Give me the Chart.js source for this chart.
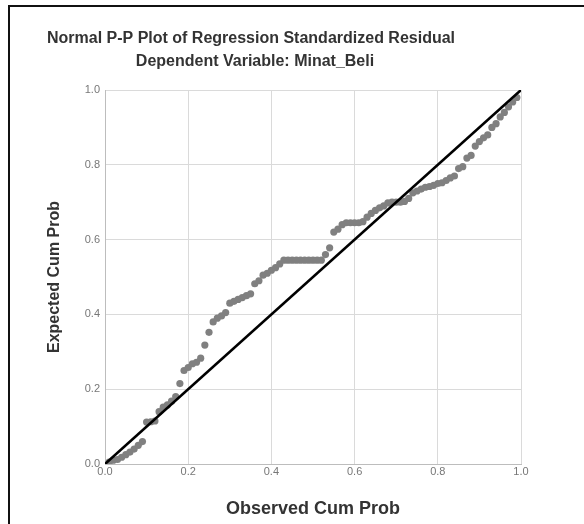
<!DOCTYPE html>
<html>
<head>
<meta charset="utf-8">
<script src="https://cdn.jsdelivr.net/npm/chart.js@4/dist/chart.umd.min.js"></script>
<style>
  html, body { margin: 0; padding: 0; background: #fff; }
  #wrap { position: relative; width: 584px; height: 524px; overflow: hidden; }
  #frame { position: absolute; left: 8px; top: 5px; width: 600px; height: 600px;
           border-left: 2px solid #111; border-top: 2px solid #111; }
  canvas { position: absolute; left: 0; top: 0; }
</style>
</head>
<body>
<div id="wrap">
  <div id="frame"></div>
  <canvas id="pp" width="584" height="524"></canvas>
</div>
<script>
const chartTitle = "Normal P-P Plot of Regression Standardized Residual";
const chartSubtitle = "Dependent Variable: Minat_Beli";
const xTitle = "Observed Cum Prob";
const yTitle = "Expected Cum Prob";

// observed cumulative probability (x) of each residual
const obsCumProb = [
  0.01, 0.02, 0.03, 0.04, 0.05, 0.06, 0.07, 0.08, 0.09, 0.10,
  0.11, 0.12, 0.13, 0.14, 0.15, 0.16, 0.17, 0.18, 0.19, 0.20,
  0.21, 0.22, 0.23, 0.24, 0.25, 0.26, 0.27, 0.28, 0.29, 0.30,
  0.31, 0.32, 0.33, 0.34, 0.35, 0.36, 0.37, 0.38, 0.39, 0.40,
  0.41, 0.42, 0.43, 0.44, 0.45, 0.46, 0.47, 0.48, 0.49, 0.50,
  0.51, 0.52, 0.53, 0.54, 0.55, 0.56, 0.57, 0.58, 0.59, 0.60,
  0.61, 0.62, 0.63, 0.64, 0.65, 0.66, 0.67, 0.68, 0.69, 0.70,
  0.71, 0.72, 0.73, 0.74, 0.75, 0.76, 0.77, 0.78, 0.79, 0.80,
  0.81, 0.82, 0.83, 0.84, 0.85, 0.86, 0.87, 0.88, 0.89, 0.90,
  0.91, 0.92, 0.93, 0.94, 0.95, 0.96, 0.97, 0.98, 0.99
];
// expected cumulative probability (y)
const expCumProb = [
  0.005, 0.010, 0.012, 0.018, 0.025, 0.032, 0.040, 0.050, 0.060, 0.112,
  0.113, 0.115, 0.140, 0.152, 0.158, 0.168, 0.180, 0.215, 0.250, 0.258,
  0.268, 0.272, 0.283, 0.318, 0.352, 0.380, 0.390, 0.396, 0.405, 0.430,
  0.435, 0.440, 0.445, 0.450, 0.455, 0.482, 0.490, 0.505, 0.510, 0.518,
  0.525, 0.535, 0.545, 0.545, 0.545, 0.545, 0.545, 0.545, 0.545, 0.545,
  0.545, 0.545, 0.560, 0.578, 0.620, 0.628, 0.640, 0.645, 0.645, 0.645,
  0.645, 0.648, 0.660, 0.670, 0.678, 0.685, 0.690, 0.698, 0.700, 0.700,
  0.700, 0.702, 0.710, 0.725, 0.730, 0.735, 0.740, 0.742, 0.745, 0.750,
  0.752, 0.758, 0.765, 0.770, 0.790, 0.795, 0.818, 0.825, 0.850, 0.862,
  0.872, 0.880, 0.900, 0.910, 0.928, 0.940, 0.955, 0.968, 0.980
];
// reference diagonal
const diagX = [0, 1];
const diagY = [0, 1];

const points = obsCumProb.map((x, i) => ({ x: x, y: expCumProb[i] }));
const diag = diagX.map((x, i) => ({ x: x, y: diagY[i] }));

const FONT = "'Liberation Sans', Arial, sans-serif";

// SPSS style two line heading, centred a bit left of the plot
const headings = {
  id: 'headings',
  afterDraw(chart) {
    const ctx = chart.ctx;
    ctx.save();
    ctx.fillStyle = '#333';
    ctx.textAlign = 'center';
    ctx.textBaseline = 'middle';
    ctx.font = 'bold 16px ' + FONT;
    ctx.fillText(chartTitle, 251, 39);
    ctx.fillText(chartSubtitle, 255, 62);
    ctx.restore();
  }
};

new Chart(document.getElementById('pp'), {
  type: 'scatter',
  data: {
    datasets: [
      {
        type: 'line',
        data: diag,
        borderColor: '#000',
        borderWidth: 2.6,
        pointRadius: 0,
        order: 0
      },
      {
        data: points,
        backgroundColor: '#808080',
        borderWidth: 0,
        pointRadius: 3.6,
        order: 1
      }
    ]
  },
  options: {
    responsive: false,
    animation: false,
    devicePixelRatio: 1,
    layout: { padding: { left: 45, right: 63, top: 90, bottom: 4 } },
    plugins: {
      legend: { display: false },
      tooltip: { enabled: false }
    },
    scales: {
      x: {
        type: 'linear',
        min: 0, max: 1,
        afterFit: s => { s.height = 56; },
        grid: { color: '#dadada', drawTicks: false },
        border: { color: '#bdbdbd' },
        ticks: {
          stepSize: 0.2, padding: 1, color: '#777',
          font: { family: FONT, size: 11 },
          callback: v => v.toFixed(1)
        },
        title: {
          display: true, text: xTitle, color: '#333',
          font: { family: FONT, size: 18, weight: 'bold' },
          padding: 0
        }
      },
      y: {
        type: 'linear',
        min: 0, max: 1,
        afterFit: s => { s.width = 60; },
        grid: { color: '#dadada', drawTicks: false },
        border: { color: '#bdbdbd' },
        ticks: {
          stepSize: 0.2, padding: 5, color: '#777',
          font: { family: FONT, size: 11 },
          callback: v => v.toFixed(1)
        },
        title: {
          display: true, text: yTitle, color: '#333',
          font: { family: FONT, size: 16, weight: 'bold' },
          padding: 0
        }
      }
    }
  },
  plugins: [headings]
});
</script>
</body>
</html>
